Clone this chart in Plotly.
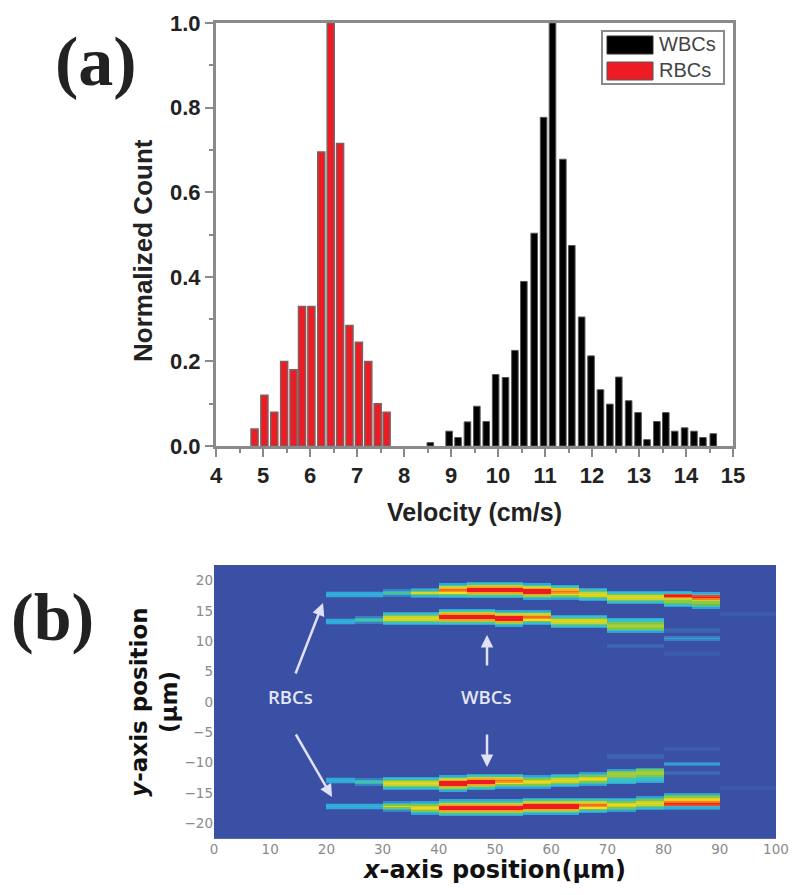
import plotly.graph_objects as go
import numpy as np

# ---- panel (a) histogram values
rbc_velocity = [4.82, 5.03, 5.24, 5.45, 5.65, 5.83, 6.03, 6.24, 6.44, 6.64, 6.84, 7.04, 7.24, 7.44, 7.63]
rbc_count = [0.04, 0.12, 0.08, 0.20, 0.18, 0.33, 0.33, 0.695, 1.0, 0.715, 0.285, 0.245, 0.20, 0.10, 0.08]

wbc_velocity = [8.56, 8.96, 9.15, 9.35, 9.55, 9.75, 9.95, 10.16, 10.36, 10.55, 10.77, 10.97, 11.16,
                11.38, 11.57, 11.78, 11.98, 12.18, 12.38, 12.57, 12.78, 12.98, 13.17, 13.38, 13.57,
                13.76, 13.97, 14.17, 14.36, 14.58]
wbc_count = [0.008, 0.035, 0.02, 0.057, 0.094, 0.058, 0.169, 0.162, 0.226, 0.389, 0.503, 0.777, 1.0,
             0.678, 0.474, 0.305, 0.213, 0.133, 0.099, 0.163, 0.107, 0.079, 0.015, 0.058, 0.079,
             0.035, 0.043, 0.035, 0.02, 0.029]

# ---- panel (b) heat map: each band is a list of (centre y, cross section) per 5 um column
col_left = [20, 25, 30, 35, 40, 45, 50, 55, 60, 65, 70, 75, 80, 85]

# cross sections, top row first, one value every 0.25 um
sections = {
    "tip":    [0.12, 0.3, 0.34, 0.3, 0.12],
    "taper":  [0.2, 0.33, 0.45, 0.33, 0.2],
    "cg":     [0.22, 0.33, 0.55, 0.68, 0.55, 0.33, 0.22],
    "gy":     [0.28, 0.38, 0.55, 0.66, 0.74, 0.66, 0.55, 0.38, 0.28],
    "hot":    [0.3, 0.42, 0.66, 0.82, 1.0, 1.0, 1.0, 0.82, 0.62, 0.42, 0.3],
    "orange": [0.3, 0.42, 0.66, 0.8, 0.9, 0.85, 0.72, 0.55, 0.38, 0.28],
    "gc":     [0.3, 0.38, 0.4, 0.55, 0.6, 0.62, 0.6, 0.55, 0.38, 0.28],
    "cgl":    [0.28, 0.55, 0.6, 0.62, 0.6, 0.55, 0.4, 0.38, 0.38, 0.3],
    "redtop": [0.3, 0.38, 0.95, 1.0, 0.88, 0.66, 0.58, 0.58, 0.52, 0.38, 0.28],
    "redbot": [0.28, 0.52, 0.58, 0.66, 0.74, 0.88, 1.0, 0.95, 0.38, 0.32, 0.22],
}

upper_outer_y = [17.75, 17.75, 18.0, 18.0, 18.25, 18.5, 18.5, 18.25, 18.0, 17.75, 17.25, 17.25, 17.0, 16.75]
upper_outer_kind = ["tip", "tip", "taper", "cg", "orange", "hot", "hot", "hot", "orange", "gy", "gy", "gy", "redtop", "redtop"]

upper_inner_y = [13.25, 13.5, 13.75, 13.75, 14.0, 14.0, 13.75, 13.75, 13.25, 13.25, 12.5, 12.5]
upper_inner_kind = ["tip", "taper", "gy", "gy", "hot", "hot", "hot", "orange", "gy", "gy", "gc", "gc"]

lower_inner_y = [-13.0, -13.25, -13.5, -13.5, -13.5, -13.25, -13.25, -13.25, -13.0, -12.75, -12.5, -12.25]
lower_inner_kind = ["tip", "taper", "gy", "gy", "hot", "hot", "orange", "gy", "gy", "gy", "cgl", "cgl"]

lower_outer_y = [-17.25, -17.25, -17.25, -17.5, -17.5, -17.5, -17.5, -17.25, -17.25, -17.25, -17.0, -16.75, -16.5, -16.5]
lower_outer_kind = ["tip", "tip", "cg", "gy", "hot", "hot", "hot", "hot", "hot", "orange", "gy", "gy", "redbot", "redbot"]

# weak streaks past the main bands: x column, y, peak value
faint_x = [70, 75, 80, 85, 80, 85, 80, 85, 90, 95, 70, 75, 80, 85, 80, 85, 80, 85, 90, 95]
faint_y = [9.25, 9.25, 11.75, 11.75, 10.5, 10.5, 8.0, 8.0, 14.5, 14.5,
           -9.0, -9.0, -11.75, -11.75, -10.25, -10.25, -7.75, -7.75, -14.25, -14.25]
faint_z = [0.12, 0.12, 0.14, 0.14, 0.28, 0.28, 0.08, 0.08, 0.06, 0.06,
           0.12, 0.12, 0.14, 0.14, 0.28, 0.28, 0.08, 0.08, 0.06, 0.06]

heat_colors = [[0.0, "#3a50a4"], [0.15, "#3d6cb5"], [0.3, "#2fa8dc"], [0.4, "#3cc4c4"], [0.5, "#5cc05a"],
               [0.62, "#a6ce39"], [0.72, "#f4e01a"], [0.85, "#f7941d"], [1.0, "#ed1c24"]]

x_ticks_a = list(range(4, 16))
y_ticks_a = [0.0, 0.2, 0.4, 0.6, 0.8, 1.0]
x_ticks_b = list(range(0, 101, 10))
y_ticks_b = list(range(-20, 21, 5))

# the page body keeps its 8px margin, so the figure starts at (8, 8)
W = 792.0
H = 887.0


def px(x):
    return (x - 8) / W


def py(y):
    return 1 - (y - 8) / H


# build the heat map grid
grid_x = np.arange(2.5, 100, 5)
grid_y = np.arange(-22.5, 22.75, 0.25)
grid = np.zeros((len(grid_y), len(grid_x)))


def row_of(y):
    return int(round((y + 22.5) / 0.25))


def col_of(x):
    return int(x // 5)


def stamp(centres, kinds):
    for left, y, kind in zip(col_left, centres, kinds):
        values = sections[kind]
        for i, v in enumerate(values):
            r = row_of(y) + len(values) // 2 - i
            grid[r, col_of(left)] = max(grid[r, col_of(left)], v)


stamp(upper_outer_y, upper_outer_kind)
stamp(upper_inner_y, upper_inner_kind)
stamp(lower_inner_y, lower_inner_kind)
stamp(lower_outer_y, lower_outer_kind)

for fx, fy, fz in zip(faint_x, faint_y, faint_z):
    grid[row_of(fy), col_of(fx)] = fz
    grid[row_of(fy) + 1, col_of(fx)] = fz * 0.7
    grid[row_of(fy) - 1, col_of(fx)] = fz * 0.7

fig = go.Figure()

fig.add_trace(go.Bar(x=wbc_velocity, y=wbc_count, width=0.14, name="WBCs", showlegend=False,
                     marker=dict(color="#000000", line=dict(color="#555555", width=1)),
                     xaxis="x", yaxis="y"))
fig.add_trace(go.Bar(x=rbc_velocity, y=rbc_count, width=0.15, name="RBCs", showlegend=False,
                     marker=dict(color="#ed1c24", line=dict(color="#7d6060", width=1.5)),
                     xaxis="x", yaxis="y"))
fig.add_trace(go.Heatmap(x=grid_x, y=grid_y, z=grid, colorscale=heat_colors, zmin=0, zmax=1,
                         showscale=False, xaxis="x2", yaxis="y2"))

axis_gray = "#8a8a8a"
fig.update_layout(
    width=W, height=H, margin=dict(l=0, r=0, t=0, b=0), paper_bgcolor="white", plot_bgcolor="white",
    barmode="overlay", showlegend=False,
    xaxis=dict(domain=[px(216), px(733)], range=[4, 15], anchor="y", tickvals=x_ticks_a, automargin=False,
               ticks="outside", ticklen=8, tickwidth=2, tickcolor=axis_gray,
               minor=dict(dtick=0.5, ticks="outside", ticklen=4, tickwidth=2, tickcolor=axis_gray),
               showline=True, linecolor=axis_gray, linewidth=3, mirror=True, showgrid=False, zeroline=False,
               tickfont=dict(family="Liberation Sans", size=22, color="#222222", weight="bold"),
               title=dict(text="Velocity (cm/s)", standoff=17,
                          font=dict(family="Liberation Sans", size=25, color="#222222", weight="bold"))),
    yaxis=dict(domain=[py(446), py(23)], range=[0, 1], anchor="x", tickvals=y_ticks_a, tickformat=".1f",
               automargin=False,
               ticks="outside", ticklen=8, tickwidth=2, tickcolor=axis_gray,
               minor=dict(dtick=0.1, ticks="outside", ticklen=4, tickwidth=2, tickcolor=axis_gray),
               showline=True, linecolor=axis_gray, linewidth=3, mirror=True, showgrid=False, zeroline=False,
               tickfont=dict(family="Liberation Sans", size=22, color="#222222", weight="bold")),
    xaxis2=dict(domain=[px(214), px(776)], range=[0, 100], anchor="y2", tickvals=x_ticks_b, automargin=False,
                ticks="", showgrid=False, zeroline=False,
                tickfont=dict(family="DejaVu Sans", size=13.5, color="#8a8a8a"),
                title=dict(text="<i>x</i>-axis position(µm)", standoff=4,
                           font=dict(family="DejaVu Sans", size=24, color="#111111", weight="bold"))),
    yaxis2=dict(domain=[py(839), py(565)], range=[-22.6, 22.6], anchor="x2", tickvals=y_ticks_b, automargin=False,
                ticks="", showgrid=False, zeroline=False,
                tickfont=dict(family="DejaVu Sans", size=13.5, color="#8a8a8a"),
                title=dict(text="<i>y</i>-axis position<br>(µm)", standoff=0,
                           font=dict(family="DejaVu Sans", size=23, color="#111111", weight="bold"))),
)

# hand made legend, plotly swatches for bars can't be this wide
fig.add_shape(type="rect", xref="paper", yref="paper", x0=px(602), x1=px(724), y0=py(84), y1=py(31),
              line=dict(color="#8a8a8a", width=2), fillcolor="white")
fig.add_shape(type="rect", xref="paper", yref="paper", x0=px(607), x1=px(653), y0=py(54), y1=py(36),
              line=dict(color="#333333", width=1), fillcolor="#000000")
fig.add_shape(type="rect", xref="paper", yref="paper", x0=px(607), x1=px(653), y0=py(80), y1=py(62),
              line=dict(color="#555555", width=1), fillcolor="#ed1c24")

labels = [("WBCs", 657, 44, "Liberation Sans", 20, "#444444", "left", "normal"),
          ("RBCs", 657, 70, "Liberation Sans", 20, "#444444", "left", "normal"),
          ("(a)", 96, 62, "Liberation Serif", 70, "#222222", "center", "bold"),
          ("(b)", 52, 617, "Liberation Serif", 68, "#222222", "center", "bold"),
          ("RBCs", 290, 696, "Open Sans", 18.5, "#e6e6f5", "center", 600),
          ("WBCs", 486, 696, "Open Sans", 18.5, "#e6e6f5", "center", 600)]
for text, lx, ly, family, size, color, align, weight in labels:
    fig.add_annotation(text=text, xref="paper", yref="paper", x=px(lx), y=py(ly), showarrow=False,
                       xanchor=align, yanchor="middle",
                       font=dict(family=family, size=size, color=color, weight=weight))

# sits lower than the axis middle in the original, so not an axis title
fig.add_annotation(text="Normalized Count", xref="paper", yref="paper", x=px(143), y=py(251), showarrow=False,
                   textangle=-90, xanchor="center", yanchor="middle",
                   font=dict(family="Liberation Sans", size=26, color="#222222", weight="bold"))

# white arrows in the heat map
arrows = [(295, 675, 323, 603), (295, 733, 332, 797), (487, 667, 487, 635), (487, 733, 487, 767)]
for x0, y0, x1, y1 in arrows:
    fig.add_annotation(xref="paper", yref="paper", x=px(x1), y=py(y1), axref="pixel", ayref="pixel",
                       ax=x0 - x1, ay=y0 - y1, text="", showarrow=True, arrowhead=2, arrowsize=1,
                       arrowwidth=2.5, arrowcolor="#e0e0f6")

fig.write_html("out.html")
